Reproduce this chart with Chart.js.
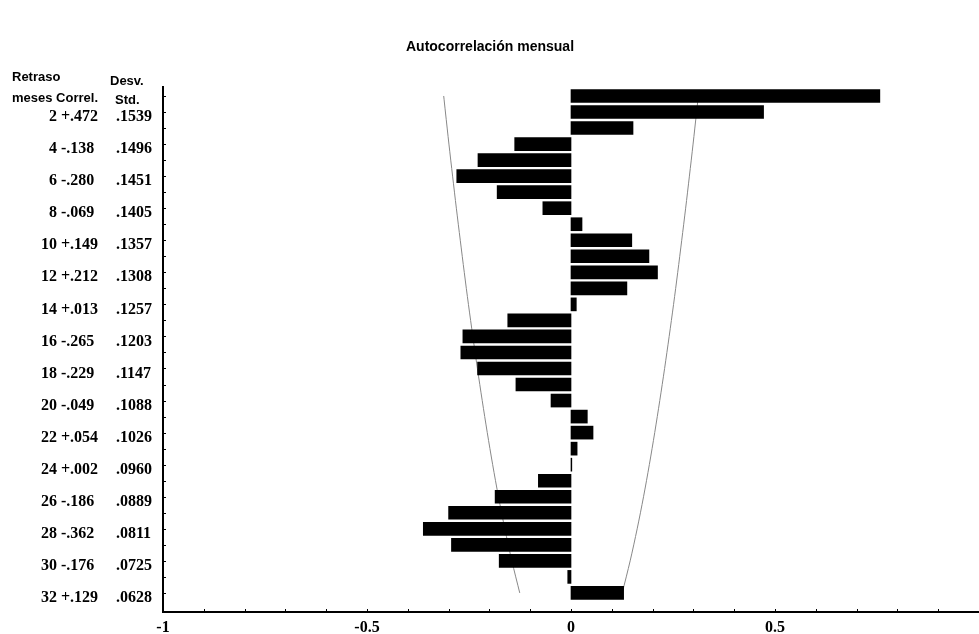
<!DOCTYPE html>
<html>
<head>
<meta charset="utf-8">
<script src="https://cdn.jsdelivr.net/npm/chart.js@4.4.0/dist/chart.umd.min.js"></script>
<style>
  html,body{margin:0;padding:0;background:#fff;}
  #chart{display:block;}
</style>
</head>
<body>
<canvas id="chart" width="979" height="634"></canvas>
<script>
// retraso (meses) 1..32
const lags = [1,2,3,4,5,6,7,8,9,10,11,12,13,14,15,16,17,18,19,20,21,22,23,24,25,26,27,28,29,30,31,32];
// autocorrelación (pares leídos de la tabla, impares estimados de las barras)
const correl = [0.757,0.472,0.152,-0.138,-0.228,-0.280,-0.181,-0.069,0.027,0.149,0.191,0.212,0.137,0.013,-0.155,-0.265,
                -0.270,-0.229,-0.135,-0.049,0.040,0.054,0.015,0.002,-0.080,-0.186,-0.300,-0.362,-0.293,-0.176,-0.008,0.129];
// desviación estándar (sólo retrasos pares, más el retraso 1 estimado de la curva)
const stdLags = [1,2,4,6,8,10,12,14,16,18,20,22,24,26,28,30,32];
const stdDev = [0.156,0.1539,0.1496,0.1451,0.1405,0.1357,0.1308,0.1257,0.1203,0.1147,0.1088,0.1026,0.0960,0.0889,0.0811,0.0725,0.0628];
// etiquetas de la tabla izquierda
const labelLags = ["2","4","6","8","10","12","14","16","18","20","22","24","26","28","30","32"];
const labelCorr = ["+.472","-.138","-.280","-.069","+.149","+.212","+.013","-.265","-.229","-.049","+.054","+.002","-.186","-.362","-.176","+.129"];
const labelStd = [".1539",".1496",".1451",".1405",".1357",".1308",".1257",".1203",".1147",".1088",".1026",".0960",".0889",".0811",".0725",".0628"];
const xTicks = [-1,-0.5,0,0.5];

const serif = '"Liberation Serif", "DejaVu Serif", serif';
const sans = '"Liberation Sans", Arial, sans-serif';

const textPlugin = {
  id: 'textPlugin',
  afterDraw(chart) {
    const ctx = chart.ctx;
    const xs = chart.scales.x, ys = chart.scales.y;
    const area = chart.chartArea;
    ctx.save();
    ctx.fillStyle = '#000';
    ctx.strokeStyle = '#000';

    // title
    ctx.font = 'bold 14px ' + sans;
    ctx.textAlign = 'center';
    ctx.textBaseline = 'middle';
    ctx.fillText('Autocorrelación mensual', 490, 47);

    // column headers
    ctx.font = 'bold 13px ' + sans;
    ctx.textAlign = 'left';
    ctx.fillText('Retraso', 12, 77);
    ctx.fillText('Desv.', 110, 81);
    ctx.fillText('meses Correl.', 12, 98);
    ctx.fillText('Std.', 115, 100);

    // table rows
    ctx.font = 'bold 16px ' + serif;
    labelLags.forEach((l, i) => {
      const y = ys.getPixelForValue(Number(l)) + 5;
      ctx.textAlign = 'right';
      ctx.fillText(l, 57, y);
      ctx.textAlign = 'left';
      ctx.fillText(labelCorr[i], 61, y);
      ctx.fillText(labelStd[i], 116, y);
    });

    // small tick marks on the y axis
    ctx.lineWidth = 1;
    lags.forEach(l => {
      const y = Math.round(ys.getPixelForValue(l)) + 0.5;
      ctx.beginPath();
      ctx.moveTo(area.left, y);
      ctx.lineTo(area.left + 3, y);
      ctx.stroke();
    });
    // small tick marks on the x axis
    for (let v = -10; v <= 10; v++) {
      const x = Math.round(xs.getPixelForValue(v / 10)) + 0.5;
      ctx.beginPath();
      ctx.moveTo(x, area.bottom);
      ctx.lineTo(x, area.bottom - 3);
      ctx.stroke();
    }

    // x labels
    ctx.font = 'bold 16px ' + serif;
    ctx.textAlign = 'center';
    xTicks.forEach(v => {
      ctx.fillText(String(v), xs.getPixelForValue(v), 628);
    });
    ctx.restore();
  }
};

new Chart(document.getElementById('chart'), {
  type: 'bar',
  data: {
    datasets: [
      {
        label: 'Correl.',
        data: lags.map((l, i) => ({ x: correl[i], y: l })),
        backgroundColor: '#000',
        borderWidth: 0,
        barThickness: 13,
        order: 1
      },
      {
        type: 'line',
        label: '-2 std',
        data: stdLags.map((l, i) => ({ x: -2 * stdDev[i], y: l })),
        borderColor: '#888',
        borderWidth: 1,
        pointRadius: 0,
        fill: false,
        tension: 0.3,
        indexAxis: 'y',
        order: 2
      },
      {
        type: 'line',
        label: '+2 std',
        data: stdLags.map((l, i) => ({ x: 2 * stdDev[i], y: l })),
        borderColor: '#888',
        borderWidth: 1,
        pointRadius: 0,
        fill: false,
        tension: 0.3,
        indexAxis: 'y',
        order: 2
      }
    ]
  },
  options: {
    indexAxis: 'y',
    responsive: false,
    animation: false,
    layout: { padding: { left: 163, right: 0, top: 87, bottom: 22 } },
    plugins: { legend: { display: false }, tooltip: { enabled: false }, title: { display: false } },
    scales: {
      x: {
        type: 'linear',
        min: -1,
        max: 1,
        grid: { display: false, drawTicks: false },
        border: { display: true, color: '#000', width: 2 },
        ticks: { display: false }
      },
      y: {
        type: 'linear',
        reverse: true,
        offset: false,
        bounds: 'ticks',
        min: 0.44,
        max: 33.19,
        grid: { display: false, drawTicks: false, offset: false },
        border: { display: true, color: '#000', width: 2 },
        ticks: { display: false }
      }
    }
  },
  plugins: [textPlugin]
});
</script>
</body>
</html>
